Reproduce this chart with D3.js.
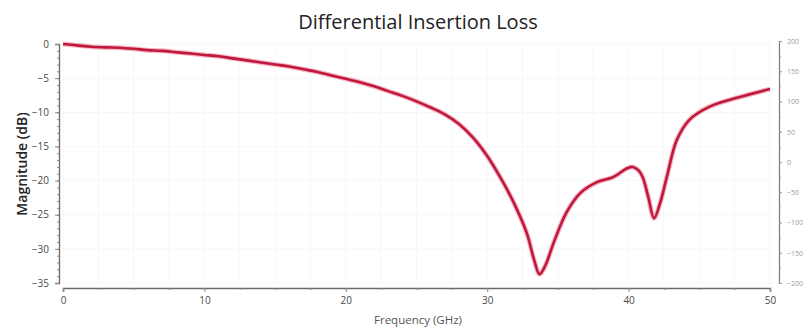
<!DOCTYPE html>
<html>
<head>
<meta charset="utf-8">
<script src="https://cdn.jsdelivr.net/npm/d3@7/dist/d3.min.js"></script>
<style>
  html, body { margin: 0; padding: 0; background: #fff; }
  svg { display: block; }
  text { font-family: "Open Sans", "Noto Sans", sans-serif; }
</style>
</head>
<body>
<svg id="chart" width="806" height="328"></svg>
<script>
// Frequency sweep (GHz) and differential insertion loss (dB)
const freqGHz = [0, 1, 2, 3, 4, 5, 6, 7, 8, 9, 10, 11, 12, 13, 14, 15, 16, 17, 18, 19, 20,
  21, 22, 23, 24, 25, 26, 27, 28, 29, 30, 31, 31.8, 32.8, 33.3, 33.7, 34.1, 34.7,
  35.6, 36.6, 37.8, 38.9, 39.9, 40.3, 40.7, 41.0, 41.4, 41.8, 42.2, 42.7, 43.4, 44.3, 45.7,
  47.8, 50];
const lossDb = [0, -0.2, -0.4, -0.5, -0.55, -0.7, -0.9, -1.0, -1.2, -1.4, -1.6, -1.8, -2.1,
  -2.4, -2.7, -3.0, -3.3, -3.7, -4.1, -4.6, -5.1, -5.6, -6.2, -6.9, -7.6, -8.4, -9.3, -10.3,
  -11.7, -13.7, -16.4, -19.8, -22.9, -27.7, -31.5, -33.7, -32.5, -29.1, -24.7, -21.8,
  -20.2, -19.5, -18.2, -18.0, -18.5, -19.5, -22.5, -25.5, -23.5, -19.5, -14.1, -11.1, -9.2,
  -7.8, -6.6];

// Axis tick values
const xTicks = [0, 10, 20, 30, 40, 50];
const yTicks = [0, -5, -10, -15, -20, -25, -30, -35];
const phaseTicks = [200, 150, 100, 50, 0, -50, -100, -150, -200];

const svg = d3.select("#chart");

const x = d3.scaleLinear().domain([0, 50]).range([63, 770]);
const y = d3.scaleLinear().domain([0, -35]).range([44, 283]);
const yPhase = d3.scaleLinear().domain([200, -200]).range([41, 283]);

// very light grid
const grid = svg.append("g").attr("stroke", "#f7f7f7").attr("stroke-width", 1);
d3.range(0, 51, 2.5).forEach(v => {
  grid.append("line").attr("x1", x(v)).attr("x2", x(v)).attr("y1", 44).attr("y2", 283);
});
yTicks.forEach(v => {
  grid.append("line").attr("x1", 63).attr("x2", 772).attr("y1", y(v)).attr("y2", y(v));
});

// left magnitude axis
const leftAxis = svg.append("g").attr("transform", "translate(59,0)")
  .call(d3.axisLeft(y).tickValues(yTicks).tickSize(4).tickPadding(6).tickFormat(d3.format("d")));
leftAxis.append("g").call(d3.axisLeft(y).tickValues(d3.range(0, -35.5, -1)).tickSize(2).tickFormat(""))
  .select(".domain").remove();
leftAxis.selectAll("path.domain").attr("stroke", "#6a6a6a").attr("stroke-width", 1.3);
leftAxis.selectAll("line").attr("stroke", "#8a8a8a");
leftAxis.selectAll("text").attr("fill", "#4a4a4a").style("font-size", "10px");

// bottom frequency axis
const bottomAxis = svg.append("g").attr("transform", "translate(0,288)")
  .call(d3.axisBottom(x).tickValues(xTicks).tickSize(4).tickPadding(5).tickFormat(d3.format("d")));
bottomAxis.append("g").call(d3.axisBottom(x).tickValues(d3.range(0, 50.1, 2.5)).tickSize(2).tickFormat(""))
  .select(".domain").remove();
bottomAxis.selectAll("path.domain").attr("stroke", "#6a6a6a").attr("stroke-width", 1.6);
bottomAxis.selectAll("line").attr("stroke", "#8a8a8a");
bottomAxis.selectAll("text").attr("fill", "#4a4a4a").style("font-size", "10px");

// right phase axis
const rightAxis = svg.append("g").attr("transform", "translate(779,0)")
  .call(d3.axisRight(yPhase).tickValues(phaseTicks).tickSize(3).tickPadding(5).tickFormat(d3.format("d")));
rightAxis.append("g").call(d3.axisRight(yPhase).tickValues(d3.range(200, -201, -25)).tickSize(2).tickFormat(""))
  .select(".domain").remove();
rightAxis.selectAll("path.domain").attr("stroke", "#7a7a7a").attr("stroke-width", 1.2);
rightAxis.selectAll("line").attr("stroke", "#9a9a9a");
rightAxis.selectAll("text").attr("fill", "#9a9a9a").style("font-size", "7px");

// insertion loss trace
const line = d3.line()
  .x((d, i) => x(freqGHz[i]))
  .y(d => y(d))
  .curve(d3.curveCatmullRom.alpha(0.5));

svg.append("path").datum(lossDb)
  .attr("fill", "none").attr("stroke", "#f4b8c6").attr("stroke-width", 5)
  .attr("stroke-linejoin", "round").attr("d", line);
svg.append("path").datum(lossDb)
  .attr("fill", "none").attr("stroke", "#c0183c").attr("stroke-width", 2.6)
  .attr("stroke-linejoin", "round").attr("d", line);

// titles
svg.append("text").attr("x", 418).attr("y", 29).attr("text-anchor", "middle")
  .attr("fill", "#222").style("font-size", "20px").text("Differential Insertion Loss");
svg.append("text").attr("x", 418).attr("y", 324).attr("text-anchor", "middle")
  .attr("fill", "#555").style("font-size", "11.5px").text("Frequency (GHz)");
svg.append("text").attr("transform", "translate(27,164) rotate(-90)").attr("text-anchor", "middle")
  .attr("fill", "#222").style("font-size", "14px").style("font-weight", "600").text("Magnitude (dB)");
</script>
</body>
</html>
